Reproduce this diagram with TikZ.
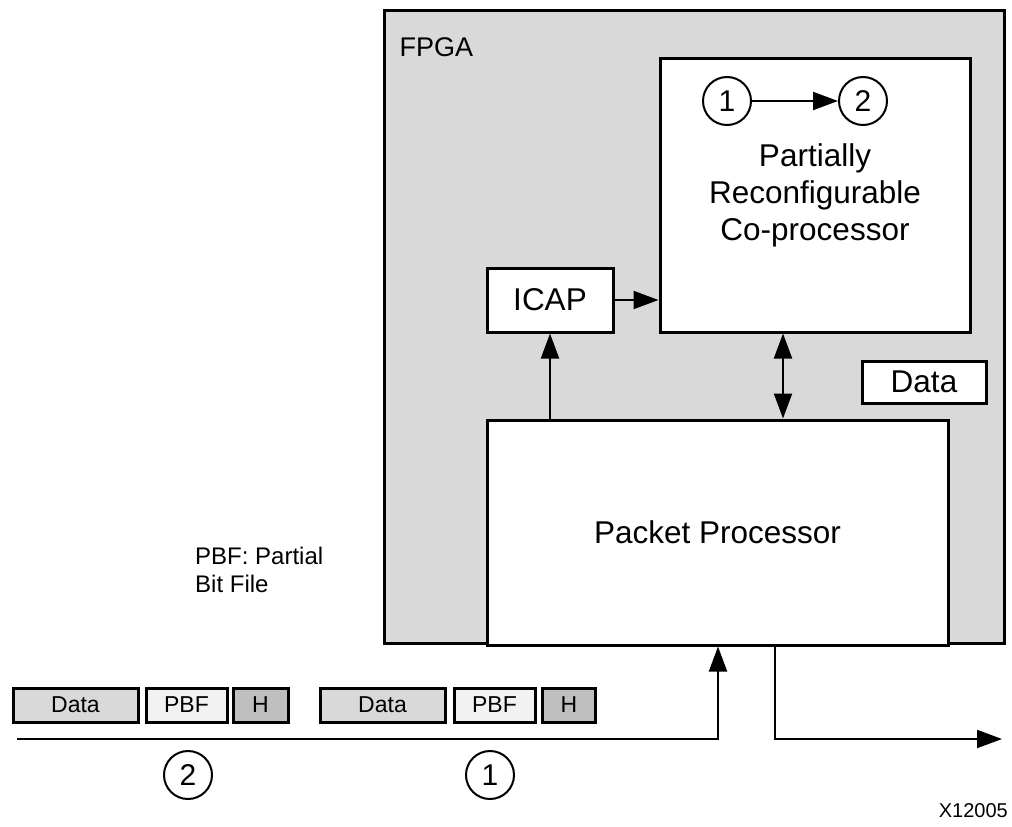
\documentclass[tikz,border=0pt]{standalone}
\usepackage{fontspec}
\setmainfont{Liberation Sans}
\usetikzlibrary{arrows.meta}
\definecolor{fpgagray}{HTML}{D9D9D9}
\definecolor{hgray}{HTML}{BFBFBF}
\definecolor{pbfgray}{HTML}{F2F2F2}
\tikzset{
  blk/.style={draw, line width=3pt, fill=white, inner sep=0pt},
  pkt/.style={draw, line width=3pt, inner sep=0pt, minimum height=34pt, font=\fontsize{23}{27}\selectfont},
  num/.style={draw, circle, line width=2pt, minimum size=48pt, inner sep=0pt, font=\fontsize{30}{34}\selectfont},
  arr/.style={line width=2pt, -{Triangle[length=25pt,width=18pt]}},
  dbl/.style={line width=2pt, {Triangle[length=25pt,width=18pt]}-{Triangle[length=25pt,width=18pt]}},
}
\begin{document}
\begin{tikzpicture}[x=1pt, y=-1pt, font=\fontsize{31.5}{41}\selectfont]
\useasboundingbox (0,0) rectangle (1012,827);
\node[blk, fill=fpgagray, minimum width=620pt, minimum height=633pt] (fpga) at (694,326.5){};
\node[anchor=west, font=\fontsize{27}{32}\selectfont] (fpgalbl) at (396,47){FPGA};
\node[blk, minimum width=310pt, minimum height=274pt] (cop) at (815,195){};
\node[num] (c1) at (727,101){1};
\node[num] (c2) at (863,101){2};
\draw[arr](c1) -- (c2);
\node[align=center, font=\fontsize{31.5}{37}\selectfont] (coplbl) at (815,195){Partially\\Reconfigurable\\Co-processor};
\node[blk, minimum width=126pt, minimum height=64pt] (icap) at (550,300){ICAP};
\node[blk, minimum width=124pt, minimum height=42pt] (data) at (924,382){Data};
\node[blk, minimum width=461pt, minimum height=225pt] (pp) at (717.5,532.5){Packet Processor};
\draw[arr](icap.east) -- (cop.west |- icap.east);
\draw[arr](pp.north -| icap.south) -- (icap.south);
\draw[dbl](pp.north -| 783,0) -- (cop.south -| 783,0);
\node[anchor=base west, align=left, inner sep=0pt, font=\fontsize{24}{28}\selectfont] (pbf) at (195,592){PBF: Partial\\Bit File};
\node[pkt, fill=fpgagray, minimum width=125pt] (d2) at (75.5,705){Data};
\node[pkt, fill=pbfgray, minimum width=81pt] (p2) at (186.5,705){PBF};
\node[pkt, fill=hgray, minimum width=55pt] (h2) at (260.5,705){H};
\node[pkt, fill=fpgagray, minimum width=125pt] (d1) at (382.5,705){Data};
\node[pkt, fill=pbfgray, minimum width=81pt] (p1) at (494.5,705){PBF};
\node[pkt, fill=hgray, minimum width=53pt] (h1) at (569,705){H};
\coordinate (in0) at (17,739);
\coordinate (out1) at (1002,739);
\draw[arr](in0) -| (pp.south -| 718,0);
\draw[arr](pp.south -| 775,0) |- (out1);
\node[num] (n2) at (188,775){2};
\node[num] (n1) at (490,775){1};
\node[anchor=east, inner sep=0pt, font=\fontsize{20}{24}\selectfont] (fig) at (1008,811){X12005};
\end{tikzpicture}
\end{document}
